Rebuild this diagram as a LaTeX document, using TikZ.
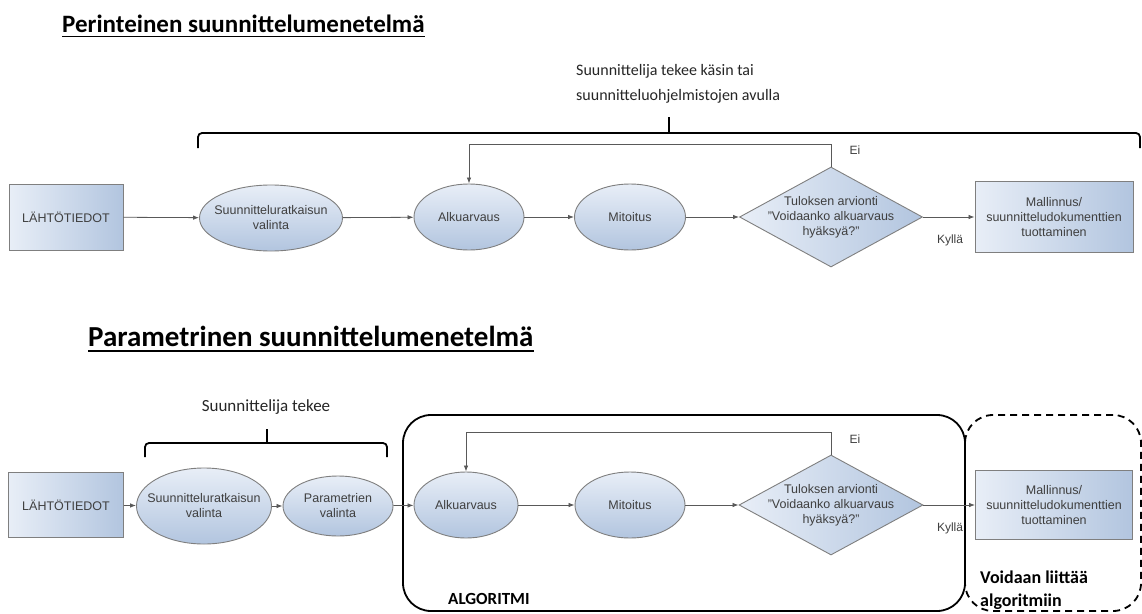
\documentclass[tikz,border=0pt]{standalone}
\usepackage{fontspec}
\setmainfont{Liberation Sans}
\newfontfamily\calib{Carlito}
\usetikzlibrary{shapes.geometric,arrows.meta}
\definecolor{blueL}{HTML}{E8EEF7}
\definecolor{blueD}{HTML}{B2C5DF}
\definecolor{bordergray}{HTML}{7F7F7F}
\definecolor{txtgray}{HTML}{3F3F3F}
\definecolor{linegray}{HTML}{595959}
\begin{document}
\begin{tikzpicture}[x=1pt,y=-1pt,
  nodefont/.style={font=\fontsize{12.5}{15}\selectfont},
  procbox/.style={rectangle, draw=bordergray, line width=0.9pt, left color=blueL, right color=blueD, text=txtgray, nodefont, align=center, inner sep=0pt},
  ellnode/.style={ellipse, draw=bordergray, line width=0.9pt, top color=blueL, bottom color=blueD, inner sep=0pt},
  decision/.style={diamond, draw=bordergray, line width=0.9pt, left color=blueL, right color=blueD, inner sep=0pt},
  intext/.style={label={[text=txtgray, nodefont, align=center]center:{#1}}},
  flow/.style={draw=linegray, line width=0.8pt, -{Latex[length=6pt,width=4.5pt]}},
  plain/.style={text=txtgray, font=\fontsize{12}{14}\selectfont, inner sep=0pt},
  heavy/.style={line width=1.8pt, draw=black, rounded corners=4pt},
  bigtitle/.style={font=\calib\bfseries\fontsize{#1}{#1}\selectfont, inner sep=0pt, anchor=base west},
  annot/.style={font=\calib\fontsize{#1}{25}\selectfont, text=black!85, inner sep=0pt, align=left},
  boldnote/.style={font=\calib\bfseries\fontsize{#1}{23}\selectfont, inner sep=0pt, align=left},
  container/.style={draw=black, line width=1.8pt, rounded corners=28pt, rectangle, inner sep=0pt},
]
\useasboundingbox[fill=white] (0,0) rectangle (1142,613);

% ---------- top: Perinteinen ----------
\node[bigtitle=25] (t1) at (62,32) {Perinteinen suunnittelumenetelmä};
\draw[line width=1.6pt] ([yshift=-4.5pt]t1.base west) -- ([yshift=-4.5pt]t1.base east);

\node[annot=16, anchor=north west] (n1) at (576,64) {Suunnittelija tekee käsin tai\\suunnitteluohjelmistojen avulla};

\coordinate (b1l) at (198,148);
\coordinate (b1r) at (1140,148);
\coordinate (b1m) at (669,133);
\coordinate (b1t) at (669,117);
\draw[heavy] (b1l) -- (198,133) -- (1140,133) -- (b1r);
\draw[line width=1.8pt] (b1m) -- (b1t);

\node[procbox, minimum width=114, minimum height=66] (s1) at (66,217) {LÄHTÖTIEDOT};
\node[ellnode, minimum width=143, minimum height=66, intext={Suunnitteluratkaisun\\valinta}] (e1) at (271,218) {};
\node[ellnode, minimum width=110, minimum height=66, intext={Alkuarvaus}] (a1) at (469,217) {};
\node[ellnode, minimum width=111, minimum height=66, intext={Mitoitus}] (m1) at (630,217) {};
\node[decision, minimum width=183, minimum height=100, intext={Tuloksen arvionti\\"Voidaanko alkuarvaus\\hyäksyä?"}] (d1) at (831,217) {};
\node[procbox, minimum width=158, minimum height=71] (r1) at (1054,217) {Mallinnus/\\suunnitteludokumenttien\\tuottaminen};

\draw[flow] (s1) -- (e1);
\draw[flow] (e1) -- (a1);
\draw[flow] (a1) -- (m1);
\draw[flow] (m1) -- (d1);
\draw[flow] (d1) -- (r1);
\coordinate (l1) at (831,144);
\draw[flow] (d1.north) -- (l1) -| (a1.north);

\node[plain] (ei1) at (855,150) {Ei};
\node[plain] (ky1) at (950,240) {Kyllä};

% ---------- bottom: Parametrinen ----------
\node[bigtitle=29] (t2) at (88,346) {Parametrinen suunnittelumenetelmä};
\draw[line width=1.6pt] ([yshift=-5pt]t2.base west) -- ([yshift=-5pt]t2.base east);

\node[annot=17, anchor=base] (n2) at (266,411) {Suunnittelija tekee};

\coordinate (b2l) at (145,457);
\coordinate (b2r) at (387,457);
\coordinate (b2m) at (267,443);
\coordinate (b2t) at (267,429);
\draw[heavy] (b2l) -- (145,443) -- (387,443) -- (b2r);
\draw[line width=1.8pt] (b2m) -- (b2t);

\node[container, minimum width=562, minimum height=196] (alg) at (684,513) {};
\node[container, dash pattern=on 7pt off 5pt, minimum width=176, minimum height=196] (opt) at (1053,513) {};

\node[procbox, minimum width=115, minimum height=65] (s2) at (66,505) {LÄHTÖTIEDOT};
\node[ellnode, minimum width=135, minimum height=76, intext={Suunnitteluratkaisun\\valinta}] (e2) at (204,506) {};
\node[ellnode, minimum width=110, minimum height=60, intext={Parametrien\\valinta}] (p2) at (338,506) {};
\node[ellnode, minimum width=104, minimum height=66, intext={Alkuarvaus}] (a2) at (466,505) {};
\node[ellnode, minimum width=110, minimum height=66, intext={Mitoitus}] (m2) at (630,505) {};
\node[decision, minimum width=184, minimum height=100, intext={Tuloksen arvionti\\"Voidaanko alkuarvaus\\hyäksyä?"}] (d2) at (831,505) {};
\node[procbox, minimum width=157, minimum height=69] (r2) at (1054,505) {Mallinnus/\\suunnitteludokumenttien\\tuottaminen};

\draw[flow] (s2) -- (e2);
\draw[flow] (e2) -- (p2);
\draw[flow] (p2) -- (a2);
\draw[flow] (a2) -- (m2);
\draw[flow] (m2) -- (d2);
\draw[flow] (d2) -- (r2);
\coordinate (l2) at (831,432);
\draw[flow] (d2.north) -- (l2) -| (a2.north);

\node[plain] (ei2) at (855,439) {Ei};
\node[plain] (ky2) at (950,528) {Kyllä};

\node[boldnote=17, anchor=base west] (alt) at (448,604) {ALGORITMI};
\node[boldnote=18, anchor=west] (vl) at (980,590) {Voidaan liittää\\algoritmiin};
\end{tikzpicture}
\end{document}
